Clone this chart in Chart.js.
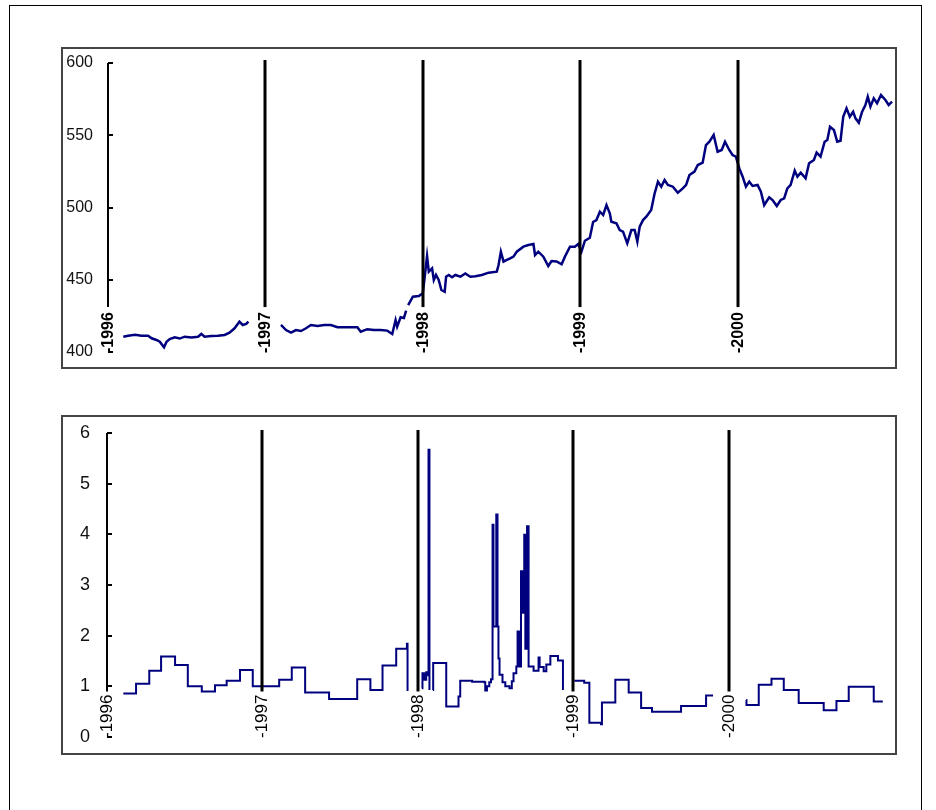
<!DOCTYPE html>
<html>
<head>
<meta charset="utf-8">
<script src="https://cdn.jsdelivr.net/npm/chart.js@4.4.1/dist/chart.umd.min.js"></script>
<style>
  body { margin: 0; background: #fff; width: 936px; height: 810px; overflow: hidden; position: relative; }
  #frame { position: absolute; left: 9px; top: 5px; width: 911px; height: 830px; border: 1px solid #000; }
  .box { position: absolute; left: 61px; width: 832px; border: 2px solid #444; background: #fff; }
  #box1 { top: 47px; height: 318px; }
  #box2 { top: 415px; height: 336px; }
  canvas { display: block; }
</style>
</head>
<body>
<div id="frame"></div>
<div class="box" id="box1"><canvas id="priceChart" width="832" height="318"></canvas></div>
<div class="box" id="box2"><canvas id="rateChart" width="832" height="336"></canvas></div>
<script>
// year markers drawn as vertical lines with rotated labels
var yearMarks = [1996, 1997, 1998, 1999, 2000];
var yearLabels = ['-1996', '-1997', '-1998', '-1999', '-2000'];

// top panel: level series (null = gap)
var priceYears = [
  1996.097, 1996.128, 1996.171, 1996.213, 1996.255, 1996.277, 1996.308, 1996.329, 1996.356, 1996.372,
  1996.392, 1996.424, 1996.456, 1996.487, 1996.530, 1996.572, 1996.593, 1996.614, 1996.656, 1996.698,
  1996.741, 1996.772, 1996.804, 1996.835, 1996.856, 1996.878, 1996.892, 1996.990,
  1997.099, 1997.131, 1997.163, 1997.194, 1997.226, 1997.258, 1997.289, 1997.331, 1997.373, 1997.416,
  1997.458, 1997.500, 1997.542, 1997.584, 1997.606, 1997.647, 1997.690, 1997.732, 1997.774, 1997.806,
  1997.827, 1997.837, 1997.859, 1997.880, 1997.894, 1997.900,
  1997.907, 1997.937, 1997.975, 1998.000, 1998.017, 1998.027, 1998.038, 1998.059, 1998.070, 1998.084,
  1998.101, 1998.118, 1998.139, 1998.148, 1998.165, 1998.186, 1998.207, 1998.239, 1998.270, 1998.302,
  1998.334, 1998.375, 1998.418, 1998.470, 1998.481, 1998.496, 1998.513, 1998.534, 1998.555, 1998.576,
  1998.597, 1998.639, 1998.671, 1998.703, 1998.713, 1998.734, 1998.766, 1998.797, 1998.818, 1998.850,
  1998.882, 1998.903, 1998.935, 1998.966, 1998.987, 1999.008, 1999.030, 1999.061, 1999.082, 1999.103,
  1999.125, 1999.146, 1999.167, 1999.188, 1999.198, 1999.230, 1999.251, 1999.272, 1999.299, 1999.325,
  1999.346, 1999.363, 1999.378, 1999.399, 1999.420, 1999.451, 1999.473, 1999.494, 1999.515, 1999.536,
  1999.557, 1999.589, 1999.620, 1999.652, 1999.673, 1999.694, 1999.726, 1999.747, 1999.778, 1999.799,
  1999.821, 1999.848, 1999.873, 1999.899, 1999.920, 1999.947, 1999.968, 1999.989, 2000.011, 2000.032,
  2000.053, 2000.074, 2000.095, 2000.127, 2000.148, 2000.169, 2000.201, 2000.222, 2000.249, 2000.274,
  2000.296, 2000.316, 2000.337, 2000.363, 2000.380, 2000.401, 2000.432, 2000.454, 2000.485, 2000.502,
  2000.527, 2000.553, 2000.570, 2000.587, 2000.612, 2000.633, 2000.654, 2000.671, 2000.692, 2000.713,
  2000.734, 2000.749, 2000.770, 2000.791, 2000.812, 2000.827, 2000.844, 2000.865, 2000.886, 2000.911,
  2000.939, 2000.960, 2000.981
];
var priceValues = [
  410.6, 411.3, 412.0, 411.3, 411.3, 409.5, 408.3, 407.1, 403.2, 407.1,
  409.0, 410.1, 409.3, 410.6, 410.0, 410.6, 412.5, 410.6, 411.0, 411.3,
  411.8, 413.4, 416.4, 421.0, 418.7, 419.4, 421.0, null,
  418.7, 415.2, 413.4, 415.2, 414.5, 416.4, 418.7, 418.0, 418.7, 418.7,
  417.1, 417.1, 417.1, 417.1, 414.0, 415.8, 415.2, 415.2, 414.8, 412.5,
  422.1, 417.5, 424.0, 423.5, 428.6, null,
  432.5, 438.3, 438.8, 440.6, 456.7, 466.4, 455.6, 457.9, 449.8, 453.3,
  449.8, 442.9, 441.7, 452.1, 453.3, 451.7, 453.3, 452.1, 454.4, 452.1,
  452.4, 453.3, 454.9, 455.6, 460.0, 469.4, 462.5, 463.7, 464.8, 466.0,
  469.4, 472.9, 474.0, 474.7, 467.1, 469.4, 466.0, 459.5, 463.0, 462.7,
  460.7, 466.0, 472.9, 472.9, 474.7, 469.4, 477.0, 479.1, 490.0, 491.3,
  497.1, 494.8, 501.7, 496.0, 490.2, 489.1, 484.4, 483.3, 475.2, 484.4,
  484.4, 476.3, 486.7, 491.3, 493.6, 498.3, 509.8, 517.9, 514.4, 519.0,
  515.6, 514.4, 510.2, 513.2, 515.6, 522.5, 524.8, 529.4, 531.0, 543.2,
  545.5, 550.2, 538.6, 539.8, 545.5, 539.8, 536.3, 535.2, 527.1, 521.3,
  514.4, 517.9, 514.9, 515.6, 511.0, 501.7, 507.1, 505.2, 501.0, 505.2,
  506.4, 513.2, 515.6, 525.5, 521.3, 524.1, 520.2, 530.6, 532.9, 538.0,
  535.2, 545.5, 546.7, 555.9, 553.6, 545.5, 546.2, 562.8, 568.6, 562.8,
  566.3, 561.7, 558.7, 566.3, 570.9, 576.7, 569.8, 575.5, 572.1, 577.8,
  574.4, 570.9, 573.2
];
var priceTicks = { min: 400, max: 600, step: 50 };

// bottom panel: step series (value holds until next date, null = gap)
var rateYears = [
  1996.105, 1996.187, 1996.272, 1996.348, 1996.438, 1996.520, 1996.610, 1996.695, 1996.770, 1996.856,
  1996.938, 1997.108, 1997.189, 1997.275, 1997.429, 1997.610, 1997.695, 1997.773, 1997.861, 1997.930,
  1997.934, 1997.940,
  1998.026, 1998.030, 1998.041, 1998.054, 1998.063, 1998.069, 1998.075, 1998.080,
  1998.097, 1998.099, 1998.183, 1998.262, 1998.273, 1998.350, 1998.428, 1998.434, 1998.445, 1998.460,
  1998.471, 1998.481, 1998.487, 1998.505, 1998.513, 1998.519, 1998.526, 1998.545, 1998.563, 1998.590,
  1998.605, 1998.616, 1998.634, 1998.642, 1998.653, 1998.664, 1998.672, 1998.685, 1998.692, 1998.703,
  1998.713, 1998.745, 1998.777, 1998.784, 1998.810, 1998.827, 1998.853, 1998.902, 1998.934, 1998.940,
  1999.007, 1999.071, 1999.104, 1999.179, 1999.185, 1999.271, 1999.357, 1999.437, 1999.507, 1999.694,
  1999.855, 1999.900, 1999.905,
  2000.113, 2000.115, 2000.194, 2000.276, 2000.355, 2000.451, 2000.612, 2000.694, 2000.773, 2000.934,
  2000.992
];
var rateValues = [
  0.86, 1.05, 1.31, 1.59, 1.42, 1.00, 0.90, 1.02, 1.11, 1.32,
  1.00, 1.13, 1.37, 0.88, 0.75, 1.14, 0.93, 1.41, 1.74, 1.84,
  0.91, null,
  0.96, 1.26, 1.13, 1.28, 1.22, 5.67, 0.93, null,
  0.93, 1.46, 0.60, 0.80, 1.11, 1.09, 1.08, 0.92, 1.00, 1.08,
  1.14, 4.19, 2.18, 4.39, 2.18, 1.55, 1.23, 1.08, 1.00, 0.96,
  1.10, 1.26, 1.39, 2.08, 1.39, 3.27, 2.45, 3.99, 1.74, 4.16,
  1.39, 1.31, 1.57, 1.38, 1.30, 1.43, 1.60, 1.51, 0.93, null,
  1.11, 1.07, 0.28, 0.25, 0.68, 1.13, 0.88, 0.57, 0.50, 0.61,
  0.82, 0.82, null,
  0.73, 0.63, 1.03, 1.15, 0.93, 0.67, 0.53, 0.71, 0.99, 0.70,
  0.70
];
var rateTicks = { min: 0, max: 6, step: 1 };

var lineColour = '#00007f';

// year lines, rotated year labels and inward y ticks
var yearLinesPlugin = {
  id: 'yearLines',
  afterDatasetsDraw: function(chart, args, opts) {
    var ctx = chart.ctx, area = chart.chartArea;
    var xs = chart.scales.x, ys = chart.scales.y;
    ctx.save();
    ctx.font = opts.font;
    ctx.fillStyle = '#000';
    ctx.strokeStyle = '#000';
    yearMarks.forEach(function(yr, i) {
      var px = Math.round(xs.getPixelForValue(yr));
      var w = ctx.measureText(yearLabels[i]).width;
      ctx.lineWidth = i === 0 ? 2 : 3;
      ctx.beginPath();
      ctx.moveTo(px, i === 0 ? area.top : area.top - opts.overhang);
      ctx.lineTo(px, area.bottom - w - opts.gap);
      ctx.stroke();
      ctx.save();
      ctx.translate(px + 0.5, area.bottom + 1);
      ctx.rotate(-Math.PI / 2);
      ctx.textAlign = 'left';
      ctx.textBaseline = 'middle';
      ctx.fillText(yearLabels[i], 0, 0);
      ctx.restore();
    });
    ctx.lineWidth = 2;
    ys.ticks.forEach(function(t) {
      var py = Math.round(ys.getPixelForValue(t.value));
      ctx.beginPath();
      ctx.moveTo(area.left, py);
      ctx.lineTo(area.left + 5, py);
      ctx.stroke();
    });
    ctx.restore();
  }
};

function makeChart(id, xsArr, vals, ticks, opt) {
  var pts = xsArr.map(function(x, i) { return { x: x, y: vals[i] }; });
  return new Chart(document.getElementById(id).getContext('2d'), {
    type: 'line',
    data: { datasets: [{
      data: pts,
      borderColor: lineColour,
      borderWidth: opt.lineWidth,
      pointRadius: 0,
      tension: 0,
      spanGaps: false,
      stepped: opt.stepped
    }] },
    options: {
      responsive: false,
      animation: false,
      layout: { padding: opt.padding },
      plugins: {
        legend: { display: false },
        tooltip: { enabled: false },
        yearLines: { font: opt.labelFont, gap: opt.gap, overhang: 3 }
      },
      scales: {
        x: { type: 'linear', min: 1996, max: opt.xMax, display: false },
        y: {
          min: ticks.min, max: ticks.max,
          afterFit: function(s) {
            s.width = opt.axisWidth;
            s.paddingTop = 0;
            s.paddingBottom = 0;
          },
          grid: { display: false, drawTicks: false },
          border: { display: false },
          ticks: {
            stepSize: ticks.step,
            padding: opt.tickPad,
            color: '#111',
            font: { family: '"Liberation Sans", Arial, sans-serif', size: opt.tickSize }
          }
        }
      }
    },
    plugins: [yearLinesPlugin]
  });
}

makeChart('priceChart', priceYears, priceValues, priceTicks, {
  stepped: false, xMax: 2001, axisWidth: 45, tickPad: 15, tickSize: 16, lineWidth: 2.5,
  padding: { top: 14, bottom: 15, right: 0, left: 0 },
  labelFont: 'bold 16px "Liberation Sans", Arial, sans-serif', gap: 4
});
makeChart('rateChart', rateYears, rateValues, rateTicks, {
  stepped: 'before', xMax: 2001, axisWidth: 44, tickPad: 17, tickSize: 18, lineWidth: 2,
  padding: { top: 16, bottom: 16, right: 11, left: 0 },
  labelFont: '17px "Liberation Sans", Arial, sans-serif', gap: 2
});
</script>
</body>
</html>
